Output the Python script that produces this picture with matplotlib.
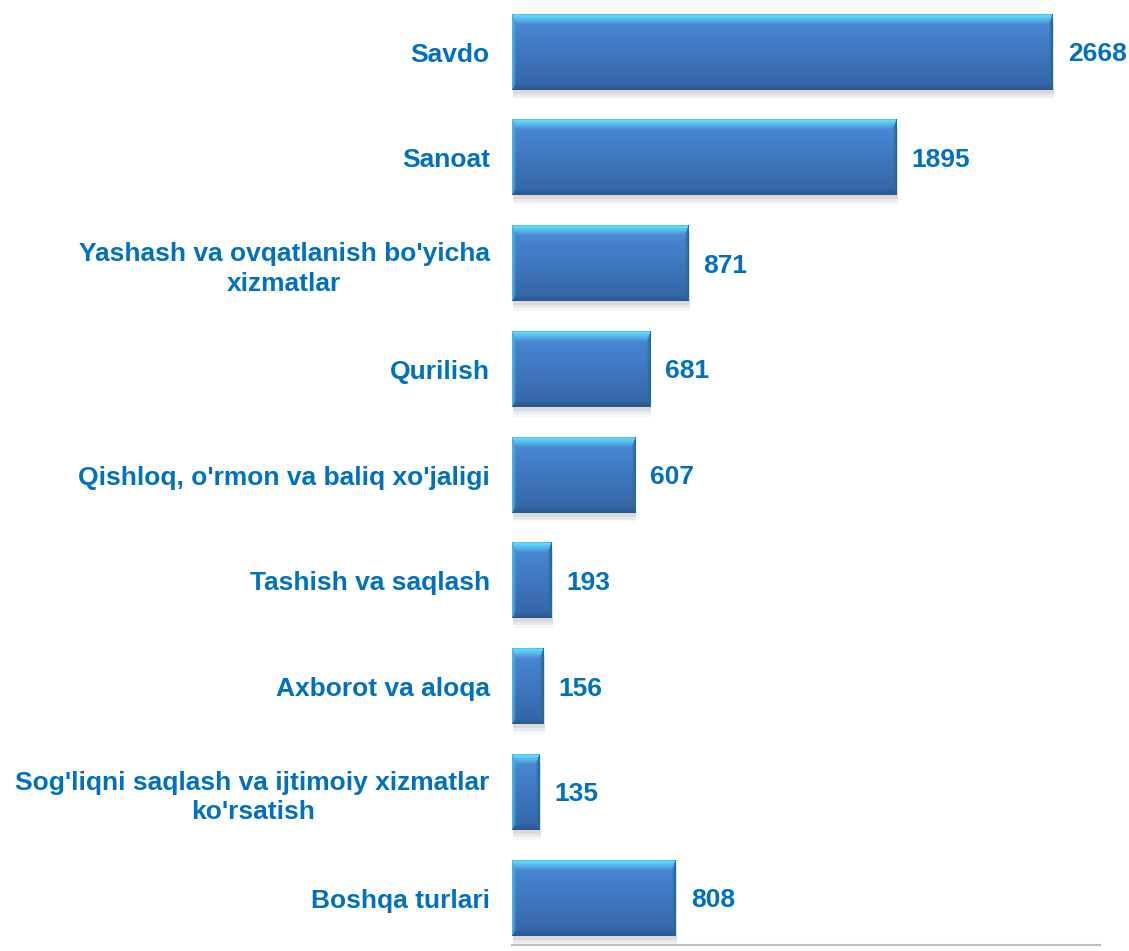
import numpy as np
import matplotlib
matplotlib.use("Agg")
import matplotlib.pyplot as plt
from matplotlib import patheffects as pe
from matplotlib.colors import to_rgb

categories = [
    "Savdo",
    "Sanoat",
    "Yashash va ovqatlanish bo'yicha\nxizmatlar",
    "Qurilish",
    "Qishloq, o'rmon va baliq xo'jaligi",
    "Tashish va saqlash",
    "Axborot va aloqa",
    "Sog'liqni saqlash va ijtimoiy xizmatlar\nko'rsatish",
    "Boshqa turlari",
]
values = [2668, 1895, 871, 681, 607, 193, 156, 135, 808]

TEXT_COLOR = "#0070C0"
FONT = "Liberation Sans"
FS = 19

W, H, DPI = 1129, 951, 100
fig = plt.figure(figsize=(W / DPI, H / DPI), dpi=DPI)
ax = fig.add_axes([512 / W, 6 / H, (1100 - 512) / W, (951 - 6) / H])

pos = np.arange(len(categories))
bars = ax.barh(pos, values, height=0.71, color="#3E78C2", edgecolor="none", zorder=2)
for b in bars:
    b.set_path_effects([
        pe.SimplePatchShadow(offset=(1, -7), shadow_rgbFace="#808080", alpha=0.06),
        pe.SimplePatchShadow(offset=(1, -5), shadow_rgbFace="#808080", alpha=0.10),
        pe.SimplePatchShadow(offset=(1, -3), shadow_rgbFace="#808080", alpha=0.15),
        pe.Normal()])

ax.set_xlim(0, 2900)
ax.set_ylim(8.444, -0.492)

ax.set_yticks(pos)
ax.set_yticklabels(categories, fontsize=FS, fontweight="bold", color=TEXT_COLOR,
                   family=FONT, multialignment="center", linespacing=1.3)
ax.tick_params(axis="y", length=0, pad=16)
ax.tick_params(axis="x", length=0, labelbottom=False)
for s in ["top", "right", "left"]:
    ax.spines[s].set_visible(False)
ax.spines["bottom"].set_color("#BFBFBF")
ax.spines["bottom"].set_linewidth(1.5)

# value labels
for b, v in zip(bars, values):
    ax.annotate(f"{v}", xy=(b.get_width(), b.get_y() + b.get_height() / 2),
                xytext=(15, -2), textcoords="offset pixels", va="center", ha="left",
                fontsize=FS, fontweight="bold", color=TEXT_COLOR, family=FONT)

# bevel/gradient images over the bars
fig.canvas.draw()
def bevel_image(wpx, hpx):
    wpx = max(int(round(wpx)), 2)
    hpx = max(int(round(hpx)), 2)
    i = np.arange(hpx)[:, None] * np.ones((1, wpx))
    j = np.arange(wpx)[None, :] * np.ones((hpx, 1))
    bt, bb, bl, br = 10.0, 6.0, 4.0, 4.0
    nt = i / bt
    nb = (hpx - 1 - i) / bb
    nl = j / bl
    nr = (wpx - 1 - j) / br
    stack = np.stack([nt, nb, nl, nr])
    which = np.argmin(stack, axis=0)
    m = np.min(stack, axis=0)
    top_c, bot_c = np.array(to_rgb("#4A8CDA")), np.array(to_rgb("#3564A4"))
    t = (i / (hpx - 1))[..., None]
    base = top_c * (1 - t) + bot_c * t
    edge_cols = [np.array(to_rgb(c)) for c in ["#66E2FA", "#2C5890", "#4CB4E4", "#2A6A92"]]
    img = base.copy()
    for k in range(4):
        mask = (which == k) & (m < 1)
        f = m[mask][:, None]
        img[mask] = edge_cols[k] * (1 - f) + base[mask] * f
    img[0, :] = to_rgb("#45C8EA")
    img[:, 0] = to_rgb("#3CBCE0")
    img[:, -1] = to_rgb("#1E6E8E")
    img[-1, :] = to_rgb("#2A5A8A")
    return img

for b in bars:
    bb_disp = b.get_window_extent()
    img = bevel_image(bb_disp.width, bb_disp.height)
    x0, y0, w, h = b.get_x(), b.get_y(), b.get_width(), b.get_height()
    ax.imshow(img, extent=(x0, x0 + w, y0 + h, y0), aspect="auto",
              interpolation="bilinear", zorder=3)

ax.set_xlim(0, 2900)
ax.set_ylim(8.444, -0.492)
fig.savefig("out.png", dpi=DPI)
